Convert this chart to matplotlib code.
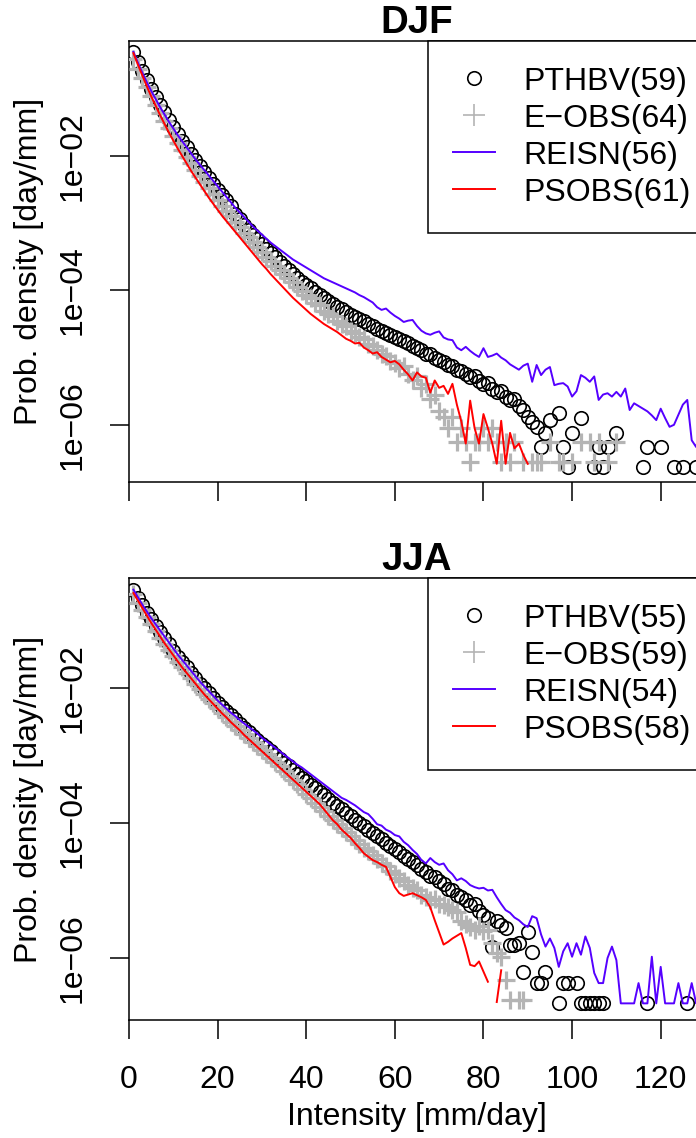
import numpy as np
import matplotlib
matplotlib.use('Agg')
import matplotlib.pyplot as plt
from matplotlib.lines import Line2D
from matplotlib.ticker import FixedLocator, NullLocator

nan = np.nan

# log10 of probability density at intensity bins 1, 2, 3, ... mm/day
djf_pthbv = [
    -0.45, -0.60, -0.74, -0.87, -1.00, -1.12, -1.24, -1.35, -1.46, -1.57,
    -1.67, -1.77, -1.87, -1.97, -2.06, -2.15, -2.24, -2.33, -2.42, -2.50,
    -2.58, -2.66, -2.75, -2.86, -2.94, -3.02, -3.10, -3.17, -3.24, -3.31,
    -3.38, -3.45, -3.51, -3.58, -3.64, -3.70, -3.76, -3.81, -3.87, -3.92,
    -3.97, -4.02, -4.07, -4.11, -4.16, -4.20, -4.24, -4.28, -4.32, -4.36,
    -4.39, -4.43, -4.46, -4.50, -4.53, -4.57, -4.60, -4.63, -4.67, -4.69,
    -4.73, -4.76, -4.78, -4.83, -4.85, -4.89, -4.94, -4.95, -5.00, -5.03,
    -5.07, -5.11, -5.13, -5.18, -5.20, -5.24, -5.29, -5.28, -5.35, -5.39,
    -5.38, -5.46, -5.51, -5.49, -5.59, -5.63, -5.61, -5.72, -5.78, -5.88,
    -5.96, -6.03, -6.33, -6.12, -5.93, nan, -5.82, -6.33, -6.63, -6.12,
    nan, -5.90, nan, nan, -6.63, -6.33, -6.63, -6.33, nan, -6.12,
    nan, nan, nan, nan, nan, -6.63, -6.33, nan, nan, -6.33,
    nan, nan, -6.63, nan, -6.63, nan, nan, -6.63,
]
djf_eobs = [
    -0.55, -0.70, -0.84, -0.98, -1.11, -1.24, -1.36, -1.48, -1.59, -1.70,
    -1.81, -1.91, -2.01, -2.11, -2.21, -2.30, -2.39, -2.48, -2.57, -2.66,
    -2.74, -2.82, -2.90, -2.98, -3.06, -3.14, -3.21, -3.28, -3.36, -3.43,
    -3.50, -3.56, -3.63, -3.70, -3.76, -3.82, -3.88, -3.95, -4.01, -4.07,
    -4.12, -4.19, -4.22, -4.30, -4.35, -4.38, -4.45, -4.50, -4.53, -4.60,
    -4.63, -4.70, -4.72, -4.80, -4.83, -4.88, -4.95, -4.98, -5.05, -5.08,
    -5.15, -5.12, -5.25, -5.33, -5.28, -5.45, -5.40, -5.62, -5.55, -5.80,
    -5.88, -6.05, -5.88, -6.25, -6.05, -6.25, -6.55, -6.25, -6.25, -6.05,
    -6.25, -6.05, -6.25, -6.55, -6.25, -6.55, -6.25, nan, -6.55, nan,
    -6.55, -6.55, -6.55, nan, -6.25, nan, -6.55, -6.55, nan, -6.55,
    nan, -6.25, nan, -6.25, -6.55, -6.25, nan, -6.55, nan, -6.25,
]
djf_reisn = [
    -0.45, -0.61, -0.76, -0.90, -1.03, -1.15, -1.27, -1.38, -1.49, -1.59,
    -1.69, -1.78, -1.87, -1.96, -2.05, -2.13, -2.21, -2.29, -2.37, -2.45,
    -2.53, -2.61, -2.69, -2.77, -2.84, -2.91, -2.98, -3.05, -3.11, -3.17,
    -3.23, -3.29, -3.34, -3.39, -3.44, -3.49, -3.54, -3.58, -3.62, -3.66,
    -3.70, -3.74, -3.78, -3.82, -3.85, -3.88, -3.91, -3.94, -3.97, -4.00,
    -4.03, -4.07, -4.10, -4.14, -4.18, -4.25, -4.29, -4.27, -4.33, -4.38,
    -4.42, -4.47, -4.45, -4.44, -4.53, -4.60, -4.64, -4.66, -4.63, -4.61,
    -4.70, -4.73, -4.74, -4.85, -4.89, -4.84, -4.90, -4.95, -4.99, -4.86,
    -4.99, -4.97, -4.94, -5.00, -5.04, -5.10, -5.14, -5.18, -5.12, -5.09,
    -5.36, -5.11, -5.26, -5.18, -5.14, -5.41, -5.39, -5.38, -5.43, -5.58,
    -5.50, -5.26, -5.30, -5.36, -5.28, -5.63, -5.55, -5.53, -5.58, -5.51,
    -5.58, -5.46, -5.78, -5.68, -5.72, -5.76, -5.80, -5.86, -5.93, -5.76,
    -5.90, -6.03, -6.00, -5.85, -5.70, -5.63, -6.23, -6.33, -6.05, -6.20,
]
djf_psobs = [
    -0.47, -0.64, -0.80, -0.96, -1.11, -1.25, -1.39, -1.52, -1.65, -1.77,
    -1.89, -2.00, -2.11, -2.22, -2.32, -2.42, -2.52, -2.62, -2.71, -2.80,
    -2.89, -2.97, -3.05, -3.13, -3.21, -3.29, -3.37, -3.45, -3.53, -3.61,
    -3.68, -3.76, -3.83, -3.90, -3.97, -4.04, -4.11, -4.17, -4.23, -4.29,
    -4.35, -4.40, -4.45, -4.50, -4.54, -4.58, -4.62, -4.67, -4.72, -4.75,
    -4.79, -4.78, -4.85, -4.89, -4.94, -4.92, -4.99, -5.03, -5.07, -5.05,
    -5.10, -5.18, -5.25, -5.34, -5.22, -5.28, -5.30, -5.52, -5.34, -5.45,
    -5.42, -5.54, -5.39, -5.70, -5.95, -6.28, -5.64, -6.05, -6.28, -5.84,
    -6.05, -6.28, -6.58, -5.94, -6.58, -6.12, -6.35, -6.28, -6.45, -6.58,
]

jja_pthbv = [
    -0.55, -0.67, -0.78, -0.89, -0.99, -1.09, -1.18, -1.27, -1.36, -1.45,
    -1.54, -1.62, -1.70, -1.78, -1.86, -1.94, -2.01, -2.08, -2.15, -2.22,
    -2.28, -2.35, -2.41, -2.47, -2.53, -2.59, -2.65, -2.71, -2.77, -2.83,
    -2.88, -2.94, -3.00, -3.05, -3.11, -3.16, -3.22, -3.27, -3.33, -3.38,
    -3.44, -3.49, -3.54, -3.59, -3.65, -3.70, -3.75, -3.80, -3.85, -3.90,
    -3.95, -4.00, -4.05, -4.10, -4.15, -4.20, -4.24, -4.30, -4.34, -4.39,
    -4.43, -4.49, -4.53, -4.58, -4.62, -4.68, -4.72, -4.78, -4.80, -4.86,
    -4.90, -4.98, -5.00, -5.06, -5.10, -5.14, -5.22, -5.20, -5.30, -5.36,
    -5.40, -5.83, -5.45, -5.51, -5.56, -5.81, -5.81, -5.78, -6.20, -5.61,
    -5.91, -6.37, -6.37, -6.20, nan, nan, -6.67, -6.37, -6.37, nan,
    -6.37, -6.67, -6.67, -6.67, -6.67, -6.67, -6.67, nan, nan, nan,
    nan, nan, nan, nan, nan, nan, -6.67, nan, nan, nan,
    nan, nan, nan, nan, nan, -6.67,
]
jja_eobs = [
    -0.62, -0.74, -0.85, -0.96, -1.06, -1.16, -1.26, -1.35, -1.44, -1.53,
    -1.62, -1.70, -1.78, -1.86, -1.94, -2.02, -2.09, -2.16, -2.23, -2.30,
    -2.37, -2.43, -2.50, -2.56, -2.62, -2.68, -2.74, -2.80, -2.86, -2.92,
    -2.98, -3.04, -3.10, -3.16, -3.23, -3.30, -3.37, -3.43, -3.50, -3.57,
    -3.63, -3.70, -3.77, -3.83, -3.90, -3.96, -4.02, -4.08, -4.14, -4.20,
    -4.26, -4.31, -4.37, -4.42, -4.48, -4.53, -4.59, -4.64, -4.71, -4.76,
    -4.82, -4.86, -4.92, -4.96, -5.00, -5.06, -5.10, -5.14, -5.12, -5.20,
    -5.22, -5.25, -5.29, -5.32, -5.45, -5.50, -5.54, -5.58, -5.52, -5.60,
    -5.58, -5.78, -5.93, -5.98, -6.32, -6.62, nan, -6.62, -6.62,
]
jja_reisn = [
    -0.55, -0.66, -0.77, -0.87, -0.97, -1.06, -1.15, -1.24, -1.33, -1.42,
    -1.51, -1.59, -1.67, -1.75, -1.83, -1.91, -1.98, -2.05, -2.12, -2.19,
    -2.25, -2.31, -2.37, -2.42, -2.48, -2.53, -2.58, -2.63, -2.68, -2.74,
    -2.79, -2.84, -2.89, -2.94, -2.99, -3.04, -3.09, -3.14, -3.18, -3.23,
    -3.28, -3.33, -3.38, -3.43, -3.48, -3.53, -3.58, -3.63, -3.66, -3.70,
    -3.74, -3.79, -3.84, -3.87, -3.94, -4.02, -4.04, -4.10, -4.13, -4.18,
    -4.20, -4.28, -4.33, -4.40, -4.46, -4.55, -4.60, -4.52, -4.58, -4.62,
    -4.60, -4.70, -4.76, -4.85, -4.82, -4.86, -4.92, -4.95, -4.97, -4.96,
    -5.00, -4.99, -5.10, -5.20, -5.29, -5.33, -5.40, -5.44, -5.50, -5.54,
    -5.38, -5.41, -5.65, -5.83, -5.71, -5.85, -6.13, -5.90, -5.78, -5.98,
    -5.78, -5.95, -5.68, -5.85, -6.22, -6.37, -6.37, -6.00, -5.83, -6.03,
    -6.67, -6.67, -6.67, -6.67, -6.37, -6.67, -6.67, -5.98, -6.67, -6.13,
    -6.67, -6.67, -6.67, -6.37, -6.67, -6.67, -6.37, -6.67, -6.37, -6.67,
]
jja_psobs = [
    -0.60, -0.71, -0.82, -0.93, -1.04, -1.14, -1.24, -1.34, -1.43, -1.52,
    -1.61, -1.70, -1.78, -1.86, -1.94, -2.02, -2.10, -2.17, -2.24, -2.31,
    -2.38, -2.44, -2.51, -2.57, -2.63, -2.70, -2.76, -2.82, -2.88, -2.94,
    -3.00, -3.06, -3.12, -3.18, -3.24, -3.30, -3.36, -3.42, -3.48, -3.54,
    -3.60, -3.66, -3.72, -3.80, -3.88, -3.96, -4.02, -4.10, -4.16, -4.22,
    -4.30, -4.37, -4.45, -4.50, -4.55, -4.58, -4.62, -4.65, -4.80, -4.95,
    -5.04, -5.08, -5.06, -5.04, -5.07, -5.10, -5.14, -5.25, -5.44, -5.62,
    -5.80, -5.76, -5.71, -5.67, -5.63, -5.85, -6.10, -6.12, -6.05, -6.20,
    -6.35, nan, -6.65, -6.18,
]

seasons = ['DJF', 'JJA']
legend_labels = {
    'DJF': ['PTHBV(59)', 'E\u2212OBS(64)', 'REISN(56)', 'PSOBS(61)'],
    'JJA': ['PTHBV(55)', 'E\u2212OBS(59)', 'REISN(54)', 'PSOBS(58)'],
}
ylims = {'DJF': (-6.851, -0.289), 'JJA': (-6.916, -0.377)}
ytick_vals = [1e-2, 1e-4, 1e-6]
ytick_labels = ['1e\u221202', '1e\u221204', '1e\u221206']
xtick_vals = [0, 20, 40, 60, 80, 100, 120]

GRAY = '#b4b4b4'
BLUE = '#5500ff'

plt.rcParams['font.family'] = ['Liberation Sans', 'DejaVu Sans']
plt.rcParams['font.size'] = 23


def series_xy(vals):
    v = np.array(vals, dtype=float)
    x = np.arange(1, len(v) + 1)
    return x, 10.0 ** v


def draw_panel(ax, season, pthbv, eobs, reisn, psobs, bottom):
    x, y = series_xy(pthbv)
    ax.plot(x, y, ls='none', marker='o', ms=9.7, mfc='none', mec='black', mew=1.2, zorder=2)
    x, y = series_xy(eobs)
    ax.plot(x, y, ls='none', marker='+', ms=13, mec=GRAY, mew=2.3, zorder=3)
    x, y = series_xy(reisn)
    ax.plot(x, y, color=BLUE, lw=1.4, zorder=4)
    x, y = series_xy(psobs)
    ax.plot(x, y, color='red', lw=1.4, zorder=5)

    ax.set_yscale('log')
    ax.yaxis.set_major_locator(FixedLocator(ytick_vals))
    ax.yaxis.set_minor_locator(NullLocator())
    ax.set_yticklabels(ytick_labels, rotation=90, va='center')
    ax.set_xticks(xtick_vals)
    lo, hi = ylims[season]
    ax.set_ylim(10 ** lo, 10 ** hi)
    ax.set_xlim(0, 130)
    ax.tick_params(axis='both', direction='out', length=13.7, width=1.1)
    ax.tick_params(axis='x', pad=19)
    ax.tick_params(axis='y', pad=16)
    if not bottom:
        ax.tick_params(axis='x', labelbottom=False)
    for s in ax.spines.values():
        s.set_linewidth(1.1)

    ax.set_title(season, fontweight='bold', pad=5)
    ax.set_ylabel('Prob. density [day/mm]')
    ax.yaxis.set_label_coords(-0.1476, 0.5)
    if bottom:
        ax.set_xlabel('Intensity [mm/day]')
        ax.xaxis.set_label_coords(0.5, -0.185)

    handles = [
        Line2D([], [], ls='none', marker='o', ms=9.7, mfc='none', mec='black', mew=1.2),
        Line2D([], [], ls='none', marker='+', ms=16, mec=GRAY, mew=1.2),
        Line2D([], [], color=BLUE, lw=1.4),
        Line2D([], [], color='red', lw=1.4),
    ]
    leg = ax.legend(handles, legend_labels[season], loc='upper left',
                    bbox_to_anchor=(0.519, 1.0), borderaxespad=0, fancybox=False,
                    edgecolor='black', framealpha=1, borderpad=0.8,
                    handlelength=1.3, handletextpad=0.9, labelspacing=0.22)
    leg.get_frame().set_linewidth(1.1)


fig = plt.figure(figsize=(6.96, 11.38), dpi=100)
ax1 = fig.add_axes([0.18534, 0.57645, 0.82759, 0.38752])
ax2 = fig.add_axes([0.18534, 0.10369, 0.82759, 0.38840])

draw_panel(ax1, 'DJF', djf_pthbv, djf_eobs, djf_reisn, djf_psobs, bottom=False)
draw_panel(ax2, 'JJA', jja_pthbv, jja_eobs, jja_reisn, jja_psobs, bottom=True)

fig.savefig('out.png', dpi=100)
